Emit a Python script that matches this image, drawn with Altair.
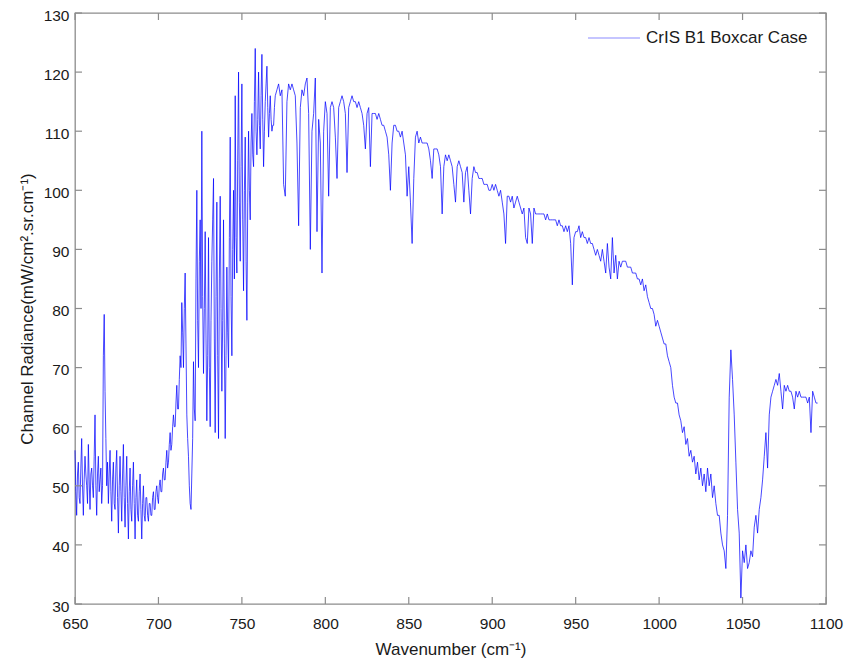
import altair as alt
import pandas as pd

# ---------------- data ----------------
# 650 - 769.5 cm-1, read every 0.5 cm-1 (dense, noisy part of the band)
DENSE_START, DENSE_STEP = 650, 0.5
RAD_DENSE = [
    56, 49, 45, 52, 54, 48, 47, 53, 58, 50,        # 650
    45, 51, 55, 52, 50, 47, 57, 51, 46, 52,        # 655
    53, 50, 48, 55, 62, 50, 45, 52, 55, 49,        # 660
    51, 53, 47, 50, 72, 79, 66, 58, 50, 54,        # 665
    47, 52, 56, 49, 44, 51, 54, 47, 46, 53,        # 670
    56, 48, 42, 50, 55, 49, 44, 52, 57, 48,        # 675
    43, 50, 55, 47, 41, 49, 53, 46, 44, 50,        # 680
    54, 47, 41, 48, 51, 45, 44, 49, 52, 46,        # 685
    41, 47, 50, 45, 44, 48, 48, 45, 44, 47,        # 690
    47, 45, 45, 48, 49, 46, 46, 49, 50, 48,        # 695
    47, 50, 51, 49, 49, 52, 53, 51, 51, 54,        # 700
    56, 53, 54, 57, 59, 56, 57, 60, 62, 60,        # 705
    60, 64, 67, 63, 63, 68, 72, 70, 81, 76,        # 710
    70, 80, 86, 74, 62, 58, 55, 50, 47, 46,        # 715
    52, 58, 71, 63, 61, 85, 100, 78, 70, 88,       # 720
    95, 80, 110, 82, 69, 80, 93, 75, 61, 72,       # 725
    92, 70, 60, 78, 88, 95, 102, 75, 59, 82,       # 730
    98, 72, 58, 85, 99, 80, 66, 78, 95, 74,        # 735
    58, 72, 87, 76, 70, 92, 109, 82, 72, 90,       # 740
    100, 85, 116, 92, 86, 105, 120, 98, 88, 104,   # 745
    118, 95, 83, 100, 109, 88, 78, 98, 110, 100,   # 750
    95, 108, 113, 106, 104, 115, 124, 110, 106, 112,  # 755
    120, 111, 107, 116, 123, 112, 104, 110, 115, 118,  # 760
    121, 114, 109, 113, 116, 112, 110, 111, 111, 114,  # 765
]
# 770 - 1095 cm-1, read every 1 cm-1
COARSE_START = 770
RAD_COARSE = [
    116, 117, 118, 116, 117, 101, 99, 115, 118, 117,   # 770
    118, 117, 116, 108, 94, 114, 117, 116, 118, 119,   # 780
    113, 90, 110, 113, 119, 93, 112, 108, 86, 110,     # 790
    115, 113, 99, 114, 115, 114, 109, 102, 114, 115,   # 800
    116, 115, 113, 103, 114, 115, 116, 115, 115, 114,  # 810
    115, 114, 113, 111, 107, 113, 114, 104, 113, 113,  # 820
    113, 112, 113, 112, 111, 111, 110, 109, 106, 100,  # 830
    108, 111, 111, 110, 110, 109, 110, 108, 106, 99,   # 840
    104, 98, 91, 102, 109, 110, 108, 109, 108, 108,    # 850
    108, 108, 107, 105, 102, 107, 107, 107, 106, 104,  # 860
    96, 104, 106, 105, 106, 105, 104, 101, 98, 104,    # 870
    105, 104, 103, 98, 103, 104, 100, 96, 102, 104,    # 880
    103, 103, 102, 102, 102, 101, 101, 101, 100, 100,  # 890
    101, 100, 101, 100, 99, 100, 98, 96, 91, 99,       # 900
    99, 98, 99, 97, 98, 99, 98, 97, 96, 97,            # 910
    92, 91, 97, 96, 91, 97, 96, 96, 96, 96,            # 920
    96, 96, 95, 96, 95, 95, 95, 95, 95, 94,            # 930
    95, 94, 94, 93, 94, 93, 94, 91, 84, 92,            # 940
    93, 93, 94, 92, 93, 92, 92, 91, 92, 91,            # 950
    91, 90, 89, 90, 89, 88, 90, 88, 86, 91,            # 960
    87, 85, 92, 86, 89, 85, 88, 87, 88, 88,            # 970
    88, 87, 87, 87, 86, 86, 86, 85, 85, 84,            # 980
    85, 83, 84, 82, 81, 80, 80, 79, 77, 78,            # 990
    77, 76, 75, 74, 74, 72, 71, 70, 67, 65,            # 1000
    64, 64, 62, 61, 59, 60, 57, 58, 55, 56,            # 1010
    54, 55, 52, 54, 51, 53, 50, 52, 49, 53,            # 1020
    50, 52, 48, 50, 47, 45, 45, 42, 40, 39,            # 1030
    36, 45, 65, 73, 68, 62, 54, 46, 42, 31,            # 1040
    39, 37, 40, 36, 37, 39, 38, 43, 45, 42,            # 1050
    46, 48, 51, 55, 59, 53, 62, 65, 66, 67,            # 1060
    68, 67, 69, 66, 63, 67, 66, 67, 66, 66,            # 1070
    65, 63, 66, 65, 66, 65, 65, 65, 65, 64,            # 1080
    65, 59, 66, 65, 64, 64,                            # 1090
]
WN = ([DENSE_START + DENSE_STEP * i for i in range(len(RAD_DENSE))]
      + list(range(COARSE_START, COARSE_START + len(RAD_COARSE))))
RAD = RAD_DENSE + RAD_COARSE
SERIES = "CrIS B1 Boxcar Case"
X_TICKS = [650, 700, 750, 800, 850, 900, 950, 1000, 1050, 1100]
Y_TICKS = [30, 40, 50, 60, 70, 80, 90, 100, 110, 120, 130]

df = pd.DataFrame({"wn": WN, "rad": RAD, "series": SERIES})
xt = pd.DataFrame({"v": X_TICKS})
yt = pd.DataFrame({"v": Y_TICKS})

W, H = 751, 591
FONT = "Liberation Sans"
GRAY = "#8c8c8c"
TXT = "#1a1a1a"
xscale = alt.Scale(domain=[650, 1100], nice=False, zero=False)
yscale = alt.Scale(domain=[30, 130], nice=False, zero=False)

xaxis = alt.Axis(title="Wavenumber (cm⁻¹)", values=X_TICKS, format="d", domain=False,
                 ticks=False, grid=False, labelPadding=12, labelFontSize=15.5,
                 labelFont=FONT, labelColor=TXT, titleFont=FONT,
                 titleFontSize=17, titleFontWeight="normal", titleColor=TXT,
                 titlePadding=10, labelFlush=False)
yaxis = alt.Axis(title="Channel Radiance(mW/cm².sr.cm⁻¹)", values=Y_TICKS, format="d",
                 domain=False, ticks=False, grid=False, labelPadding=6,
                 labelFontSize=15.5, labelFont=FONT, labelColor=TXT,
                 labelOffset=2, titleFont=FONT, titleFontSize=17,
                 titleFontWeight="normal", titleColor=TXT, titlePadding=7,
                 labelFlush=False)

line = alt.Chart(df).mark_line(strokeWidth=0.9, opacity=0.8).encode(
    x=alt.X("wn:Q", scale=xscale, axis=xaxis),
    y=alt.Y("rad:Q", scale=yscale, axis=yaxis),
    color=alt.Color("series:N", scale=alt.Scale(range=["#0000ff"]),
                    legend=alt.Legend(title=None, orient="none", legendX=512, legendY=-2,
                                      symbolType="stroke", symbolSize=2700,
                                      symbolStrokeWidth=1.2, symbolOpacity=0.45,
                                      labelFontSize=17, labelFont=FONT, labelColor=TXT,
                                      labelOffset=5, labelLimit=400, padding=0)),
)

def xrule(y0, y1):
    return alt.Chart(xt).mark_rule(color=GRAY, strokeWidth=1.2).encode(
        x=alt.X("v:Q", scale=xscale, axis=xaxis),
        y=alt.value(y0), y2=alt.value(y1))

def yrule(x0, x1):
    return alt.Chart(yt).mark_rule(color=GRAY, strokeWidth=1.2).encode(
        y=alt.Y("v:Q", scale=yscale, axis=yaxis),
        x=alt.value(x0), x2=alt.value(x1))

chart = alt.layer(
    line, xrule(H, H - 7), xrule(0, 7), yrule(0, 7), yrule(W, W - 7)
).properties(
    width=W, height=H,
    autosize=alt.AutoSizeParams(type="none"),
    padding={"left": 75, "top": 13, "right": 28, "bottom": 54},
    background="white",
).configure_view(stroke=GRAY, strokeWidth=1.3)

chart.save("out.html", embed_options={"renderer": "svg", "actions": False})
